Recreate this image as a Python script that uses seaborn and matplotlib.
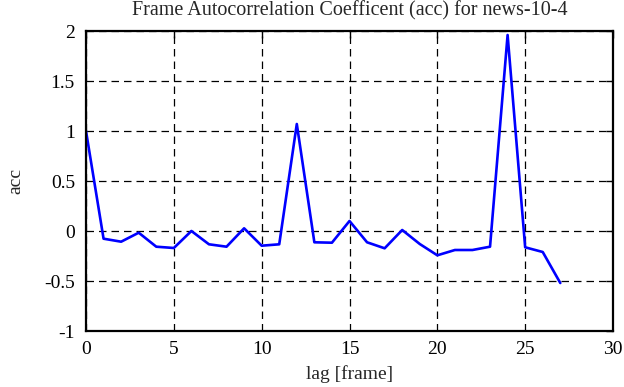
import matplotlib
matplotlib.use("Agg")
import matplotlib.pyplot as plt
import seaborn as sns
import pandas as pd

lags = list(range(28))
acc = [1.0, -0.077, -0.107, -0.017, -0.157, -0.17, 0.0, -0.133, -0.157, 0.027,
       -0.147, -0.133, 1.07, -0.113, -0.117, 0.1, -0.113, -0.173, 0.01, -0.13,
       -0.243, -0.19, -0.19, -0.157, 1.96, -0.163, -0.21, -0.52]

sns.set_style("white")
plt.rcParams['font.family'] = ['Liberation Serif', 'DejaVu Serif']

df = pd.DataFrame({"lag": lags, "acc": acc})

fig = plt.figure(figsize=(6.24, 3.87), dpi=100)
ax = fig.add_axes([86 / 624, 1 - 331 / 387, (613 - 86) / 624, (331 - 31) / 387])

sns.lineplot(data=df, x="lag", y="acc", color="#0000ff", linewidth=1.9, ax=ax)

ax.set_xlim(0, 30)
ax.set_ylim(-1, 2)
ax.set_xticks(range(0, 31, 5))
ax.set_yticks([-1, -0.5, 0, 0.5, 1, 1.5, 2])
ax.set_yticklabels(["-1", "-0.5", "0", "0.5", "1", "1.5", "2"])
ax.grid(True, color="black", linestyle=(0, (6, 4)), linewidth=0.9)
ax.tick_params(direction="in", length=5, width=1, top=True, right=True,
               labelsize=14, colors="black")
ax.tick_params(axis="y", pad=8)
ax.tick_params(axis="x", pad=7)
for s in ax.spines.values():
    s.set_color("black")
    s.set_linewidth(1.6)

ax.set_xlabel("lag [frame]", fontsize=14, labelpad=5)
ax.set_ylabel("acc", fontsize=14, labelpad=14)
ax.set_title("Frame Autocorrelation Coefficent (acc) for news-10-4", fontsize=14.5, pad=11)

fig.savefig("out.png", dpi=100)
